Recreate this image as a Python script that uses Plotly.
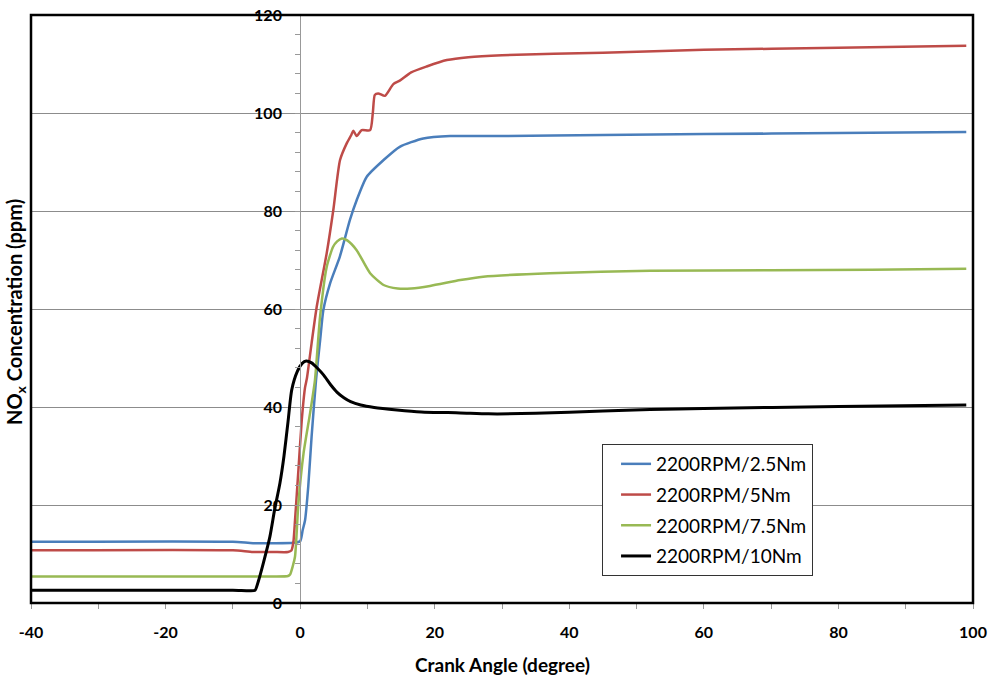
import plotly.graph_objects as go

# ---- data ----
names = ["2200RPM/2.5Nm", "2200RPM/5Nm", "2200RPM/7.5Nm", "2200RPM/10Nm"]
colors = ["#4A7EBB", "#BE4B48", "#98B954", "#000000"]

x_25 = [-40, -10, -7, -4, -1, 0, 0.38, 0.73, 1.2, 1.7, 2.36, 3.0, 3.45, 4.44, 5.9,
        7.4, 8.4, 9.9, 12.4, 14.8, 18.3, 22.3, 30, 45, 60, 80, 99]
y_25 = [12.5, 12.5, 12.2, 12.2, 12.3, 12.6, 14.9, 16.9, 23.7, 33.9, 45.5, 54, 59.8, 65.2, 70.7,
        78.2, 82.2, 87, 90.4, 93.1, 94.8, 95.3, 95.3, 95.5, 95.7, 95.9, 96.1]

x_5 = [-40, -10, -7, -4, -1.8, -1.3, -1.0, -0.76, -0.26, 0.24, 0.73, 1.0, 1.7, 2.47, 3.95,
       4.93, 5.93, 6.92, 7.6, 7.9, 8.4, 9.15, 10.4, 10.8, 11.1, 11.6, 12.6, 13.85, 14.8,
       16.5, 18.8, 21.8, 25, 30, 45, 60, 80, 99]
y_5 = [10.75, 10.75, 10.4, 10.4, 10.4, 10.7, 12.5, 16.9, 27.1, 37.3, 44.0, 45.8, 53, 60.5, 71.4,
       80.2, 90.4, 93.8, 95.5, 96.4, 95.3, 96.5, 96.5, 100, 103.7, 104, 103.5, 105.9, 106.6,
       108.3, 109.5, 110.8, 111.4, 111.8, 112.3, 112.9, 113.3, 113.7]

x_75 = [-40, -10, -4, -1.8, -1.5, -1.1, -0.76, -0.26, 0.5, 1.47, 2.2, 2.96, 3.95, 4.9, 5.5,
        6.2, 7.0, 8.4, 10.4, 12.4, 14.5, 16.5, 19.3, 23.8, 27.2, 37.1, 52, 70, 85, 99]
y_75 = [5.4, 5.4, 5.4, 5.5, 5.8, 7.5, 9.5, 20.3, 30.5, 38.7, 45.5, 58.4, 68.6, 72.7, 73.8,
        74.4, 74.0, 72, 67.3, 64.9, 64.2, 64.2, 64.7, 65.9, 66.6, 67.3, 67.8, 67.9, 68.0, 68.2]

x_10 = [-40, -10, -7.5, -6.7, -6.2, -5.5, -4.5, -3.8, -3.0, -2.4, -1.8, -1.25, -0.4, 0.3, 0.9,
        1.7, 2.5, 3.5, 4.5, 5.5, 6.5, 7.5, 9.0, 11.0, 14.4, 18, 23.8, 28, 35, 45, 52, 60, 80, 99]
y_10 = [2.6, 2.6, 2.5, 2.6, 4.5, 8, 13.5, 19, 24.5, 30, 37, 43.5, 47.3, 48.9, 49.4,
        49.0, 48.0, 46.5, 44.6, 43.0, 41.9, 41.1, 40.4, 39.9, 39.4, 39.0, 38.8, 38.6, 38.7, 39.2,
        39.5, 39.7, 40.1, 40.4]

xs = [x_25, x_5, x_75, x_10]
ys = [y_25, y_5, y_75, y_10]
widths = [2.5, 2.5, 2.5, 3]

x_ticks = [-40, -20, 0, 20, 40, 60, 80, 100]
x_tick_text = ["-40", "-20", "0", "20", "40", "60", "80", "100"]
y_ticks = [0, 20, 40, 60, 80, 100, 120]

FONT = "Lato"

fig = go.Figure()
for n, c, x, y, w in zip(names, colors, xs, ys, widths):
    fig.add_trace(go.Scatter(x=x, y=y, name=n, mode="lines", legendgroup=n,
                             line=dict(color=c, width=w, shape="spline", smoothing=0.6)))

fig.update_layout(
    width=990, height=680,
    margin=dict(l=31, r=17, t=15, b=77, autoexpand=False),
    paper_bgcolor="white", plot_bgcolor="white",
    font=dict(family=FONT, color="black"),
    showlegend=True,
    legend=dict(x=0.6062, y=0.2704, xanchor="left", yanchor="top",
                bgcolor="white", bordercolor="#333333", borderwidth=1,
                font=dict(family=FONT, size=19, color="black"),
                traceorder="grouped", tracegroupgap=3, indentation=13),
    xaxis=dict(range=[-40, 100], tickvals=x_ticks, ticktext=x_tick_text,
               showgrid=False, zeroline=False, automargin=False,
               showline=False, ticks="outside", ticklen=5, tickcolor="#999999",
               minor=dict(dtick=10, ticks="outside", ticklen=5, tickcolor="#999999"),
               tickfont=dict(family=FONT, size=16, weight="bold"),
               ticklabelstandoff=10),
    yaxis=dict(range=[0, 120], tickvals=y_ticks, anchor="free", position=40 / 140,
               automargin=False,
               showgrid=True, gridcolor="#8C8C8C", gridwidth=1, zeroline=False,
               showline=True, linecolor="#999999", linewidth=1,
               ticks="outside", ticklen=5, tickcolor="#999999",
               minor=dict(dtick=4, ticks="outside", ticklen=5, tickcolor="#999999"),
               tickfont=dict(family=FONT, size=16, weight="bold"),
               ticklabelstandoff=10),
    shapes=[dict(type="rect", xref="paper", yref="paper", x0=0, x1=1, y0=0, y1=1,
                 line=dict(color="black", width=2.5), fillcolor="rgba(0,0,0,0)", layer="above")],
    annotations=[
        dict(text="Crank Angle (degree)", xref="paper", yref="paper", x=0.5, y=0,
             xanchor="center", yanchor="middle", yshift=-61, showarrow=False,
             font=dict(family=FONT, size=19, weight="bold")),
        dict(text="NO<sub>x</sub> Concentration (ppm)", xref="paper", yref="paper", x=0, y=0.5,
             xanchor="center", yanchor="middle", xshift=-16, yshift=-3, textangle=-90,
             showarrow=False, font=dict(family=FONT, size=20, weight="bold")),
    ],
)

fig.write_html("out.html", config={"displayModeBar": False},
               post_script="document.body.style.margin='0px';document.body.style.padding='0px';")
